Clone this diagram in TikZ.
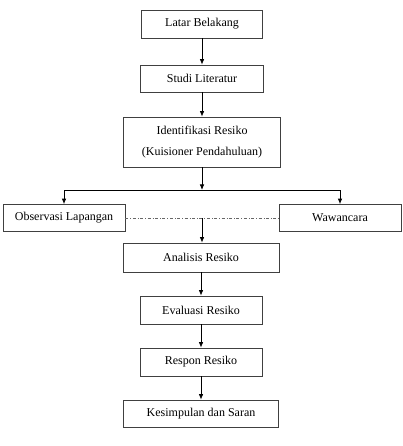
\documentclass[tikz,border=0pt]{standalone}
\usepackage{fontspec}
\setmainfont{Liberation Serif}
\usetikzlibrary{arrows.meta}
\begin{document}
\begin{tikzpicture}[x=1pt, y=-1pt,
            box/.style = {draw = black!75, line width = 0.7pt, inner sep = 0pt,
                align = center, font = \fontsize{12}{21}\selectfont},
            arr/.style = {-{Latex[length=5.5pt, width=4.5pt]}, line width = 0.8pt}]
            \useasboundingbox (0,0) rectangle (403,446);
            % alur utama
            \node[box, minimum width = 121pt, minimum height = 28pt] (lb) at (202,24) {Latar Belakang};
            \node[box, minimum width = 123pt, minimum height = 27pt] (sl) at (202,78.5) {Studi Literatur};
            \node[box, minimum width = 157pt, minimum height = 50pt] (ir) at (202,142)
                {Identifikasi Resiko\\(Kuisioner Pendahuluan)};
            \node[box, minimum width = 122pt, minimum height = 27pt] (ol) at (64,218) {Observasi Lapangan};
            \node[box, minimum width = 122pt, minimum height = 27pt] (ww) at (340,218) {Wawancara};
            \node[box, minimum width = 156pt, minimum height = 29pt] (ar) at (201,257.5) {Analisis Resiko};
            \node[box, minimum width = 122pt, minimum height = 28pt] (er) at (201,310) {Evaluasi Resiko};
            \node[box, minimum width = 122pt, minimum height = 28pt] (rr) at (201,362) {Respon Resiko};
            \node[box, minimum width = 155pt, minimum height = 27pt] (ks) at (201,413.5) {Kesimpulan dan Saran};
            % percabangan
            \coordinate (split) at (202,190);
            \coordinate (mid) at (ir |- ol);
            \draw[arr] (lb) -- (sl);
            \draw[arr] (sl) -- (ir);
            \draw[arr] (ir) -- (split);
            \draw[line width = 0.8pt] (ol |- split) -- (ww |- split);
            \draw[arr] (ol |- split) -- (ol);
            \draw[arr] (ww |- split) -- (ww);
            \draw[dash dot, black!60, line width = 0.6pt] (ol) -- (ww);
            \draw[arr] (mid) -- (mid |- ar.north);
            \draw[arr] (ar.south -| er) -- (er);
            \draw[arr] (er) -- (rr);
            \draw[arr] (rr) -- (ks);
\end{tikzpicture}
\end{document}
